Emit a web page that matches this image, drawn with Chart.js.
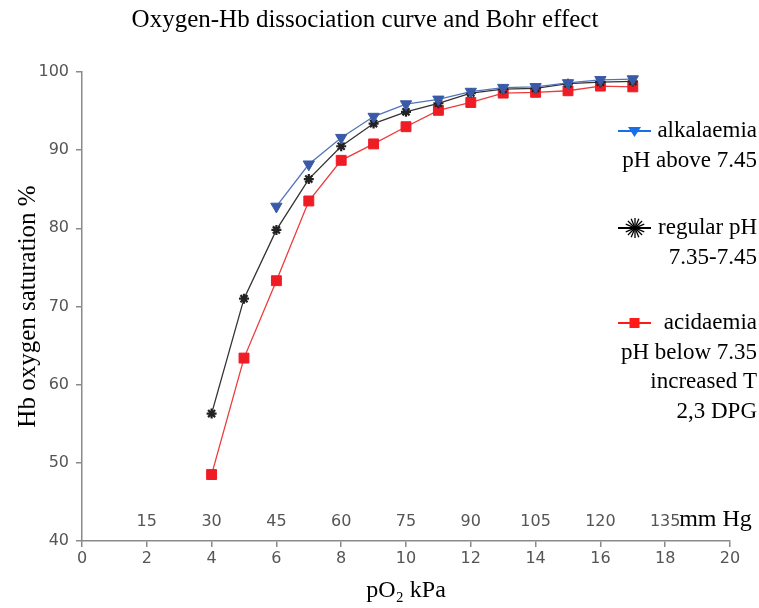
<!DOCTYPE html>
<html>
<head>
    <title>Oxygen-Hb dissociation curve and Bohr effect</title>
    <script src="https://cdn.jsdelivr.net/npm/chart.js@4"></script>
    <style>
        body {
            margin: 0;
            background: #fff;
        }
        .wrap {
            width: 759px;
            height: 608px;
        }
    </style>
</head>
<body>
    <div class="wrap"><canvas id="bohr" width="759" height="608"></canvas></div>
    <script>
        // pO2 in kPa and Hb saturation (%)
        const alkKPa = [6, 7, 8, 9, 10, 11, 12, 13, 14, 15, 16, 17];
        const alkSat = [82.8, 88.2, 91.6, 94.3, 95.9, 96.5, 97.5, 98.0, 98.1, 98.6, 99.0, 99.1];

        const regKPa = [4, 5, 6, 7, 8, 9, 10, 11, 12, 13, 14, 15, 16, 17];
        const regSat = [56.3, 71.0, 79.8, 86.3, 90.5, 93.4, 94.9, 96.0, 97.3, 97.8, 97.9, 98.5, 98.7, 98.8];

        const acdKPa = [4, 5, 6, 7, 8, 9, 10, 11, 12, 13, 14, 15, 16, 17];
        const acdSat = [48.5, 63.4, 73.3, 83.5, 88.7, 90.8, 93.0, 95.1, 96.1, 97.3, 97.4, 97.6, 98.2, 98.1];

        // second row of labels: mm Hg placed at the matching kPa value
        const mmHgAt = [2, 4, 6, 8, 10, 12, 14, 16, 18];
        const mmHgLabels = ["15", "30", "45", "60", "75", "90", "105", "120", "135"];

        const legendLines = [
            ["alkalaemia", "pH above 7.45"],
            ["regular pH", "7.35-7.45"],
            ["acidaemia", "pH below 7.35", "increased T", "2,3 DPG"]
        ];

        function pts(xs, ys) {
            return xs.map((x, i) => ({ x: x, y: ys[i] }));
        }

        const serif = "'Liberation Serif', 'Times New Roman', serif";
        const sans = "'DejaVu Sans', sans-serif";
        const axisGray = "#8a8a8a";

        // mm Hg row inside the plot, just above the x axis
        const mmHgRow = {
            id: "mmHgRow",
            afterDraw(chart) {
                const ctx = chart.ctx;
                const xs = chart.scales.x;
                const y = chart.chartArea.bottom - 19;
                ctx.save();
                ctx.font = "16px " + sans;
                ctx.fillStyle = "#555";
                ctx.textAlign = "center";
                ctx.textBaseline = "middle";
                mmHgAt.forEach((v, i) => {
                    ctx.fillText(mmHgLabels[i], xs.getPixelForValue(v), y);
                });
                const last = xs.getPixelForValue(mmHgAt[mmHgAt.length - 1]);
                ctx.font = "24px " + serif;
                ctx.fillStyle = "#000";
                ctx.textAlign = "left";
                ctx.fillText("mm Hg", last + 14, y - 2);
                ctx.restore();
            }
        };

        // legend on the right, text right aligned with small marker icons
        const sideLegend = {
            id: "sideLegend",
            afterDraw(chart) {
                const ctx = chart.ctx;
                const right = 757;
                const tops = [131, 228, 323];
                const step = 29.5;
                ctx.save();
                ctx.font = "23px " + serif;
                ctx.fillStyle = "#000";
                ctx.textAlign = "right";
                ctx.textBaseline = "middle";
                legendLines.forEach((lines, k) => {
                    lines.forEach((t, j) => ctx.fillText(t, right, tops[k] + j * step));
                });

                // blue
                let y = tops[0];
                ctx.strokeStyle = "#1a6ee8";
                ctx.fillStyle = "#1a6ee8";
                ctx.lineWidth = 2;
                ctx.beginPath();
                ctx.moveTo(618, y);
                ctx.lineTo(651, y);
                ctx.stroke();
                ctx.beginPath();
                ctx.moveTo(628, y - 4);
                ctx.lineTo(641, y - 4);
                ctx.lineTo(634.5, y + 6);
                ctx.closePath();
                ctx.fill();

                // black star
                y = tops[1];
                ctx.strokeStyle = "#000";
                ctx.lineWidth = 2;
                ctx.beginPath();
                ctx.moveTo(618, y);
                ctx.lineTo(651, y);
                ctx.stroke();
                ctx.lineWidth = 1.3;
                for (let a = 0; a < 8; a++) {
                    const ang = a * Math.PI / 8;
                    ctx.beginPath();
                    ctx.moveTo(635 - Math.cos(ang) * 10, y - Math.sin(ang) * 10);
                    ctx.lineTo(635 + Math.cos(ang) * 10, y + Math.sin(ang) * 10);
                    ctx.stroke();
                }

                // red
                y = tops[2];
                ctx.strokeStyle = "#ff1a1a";
                ctx.fillStyle = "#ff1a1a";
                ctx.lineWidth = 2;
                ctx.beginPath();
                ctx.moveTo(618, y);
                ctx.lineTo(651, y);
                ctx.stroke();
                ctx.fillRect(629.5, y - 5, 10, 10);
                ctx.restore();
            }
        };

        new Chart(document.getElementById("bohr"), {
            type: "scatter",
            data: {
                datasets: [
                    {
                        label: "alkalaemia",
                        data: pts(alkKPa, alkSat),
                        showLine: true,
                        borderColor: "#5274bd",
                        backgroundColor: "#3a5aa8",
                        borderWidth: 1.3,
                        pointStyle: "triangle",
                        rotation: 180,
                        pointRadius: 6.5,
                        pointBorderColor: "#3a5aa8",
                        pointBorderWidth: 1
                    },
                    {
                        label: "regular pH",
                        data: pts(regKPa, regSat),
                        showLine: true,
                        borderColor: "#333",
                        backgroundColor: "#222",
                        borderWidth: 1.3,
                        pointStyle: "star",
                        pointRadius: 5,
                        pointBorderColor: "#222",
                        pointBorderWidth: 2.2
                    },
                    {
                        label: "acidaemia",
                        data: pts(acdKPa, acdSat),
                        showLine: true,
                        borderColor: "#ec3b3b",
                        backgroundColor: "#ee1c25",
                        borderWidth: 1.3,
                        pointStyle: "rect",
                        pointRadius: 7,
                        pointBorderColor: "#ee1c25",
                        pointBorderWidth: 1
                    }
                ]
            },
            options: {
                responsive: false,
                animation: false,
                layout: { padding: { left: 0, right: 29, top: 0, bottom: 0 } },
                plugins: {
                    legend: { display: false },
                    tooltip: { enabled: false },
                    title: {
                        display: true,
                        text: "Oxygen-Hb dissociation curve and Bohr effect",
                        color: "#000",
                        font: { family: serif, size: 25, weight: "normal" },
                        padding: { top: 5, bottom: 37 }
                    }
                },
                scales: {
                    x: {
                        type: "linear",
                        min: 0,
                        max: 20,
                        afterFit(scale) { scale.height = 67; },
                        ticks: {
                            stepSize: 2,
                            color: "#555",
                            padding: 2,
                            font: { family: sans, size: 16 }
                        },
                        grid: {
                            drawOnChartArea: false,
                            drawTicks: true,
                            tickLength: 6,
                            color: axisGray,
                            lineWidth: 1.5
                        },
                        border: { color: axisGray, width: 1.5 },
                        title: {
                            display: true,
                            text: "pO\u2082 kPa",
                            color: "#000",
                            font: { family: serif, size: 24 },
                            padding: { top: 0, bottom: 3 }
                        }
                    },
                    y: {
                        min: 40,
                        max: 100,
                        afterFit(scale) { scale.width = 82; },
                        ticks: {
                            stepSize: 10,
                            color: "#555",
                            padding: 7,
                            font: { family: sans, size: 16 }
                        },
                        grid: {
                            drawOnChartArea: false,
                            drawTicks: true,
                            tickLength: 6,
                            color: axisGray,
                            lineWidth: 1.5
                        },
                        border: { color: axisGray, width: 1.5 },
                        title: {
                            display: true,
                            text: "Hb oxygen saturation %",
                            color: "#000",
                            font: { family: serif, size: 25 },
                            padding: { top: 13, bottom: 0 }
                        }
                    }
                }
            },
            plugins: [mmHgRow, sideLegend]
        });
    </script>
</body>
</html>
